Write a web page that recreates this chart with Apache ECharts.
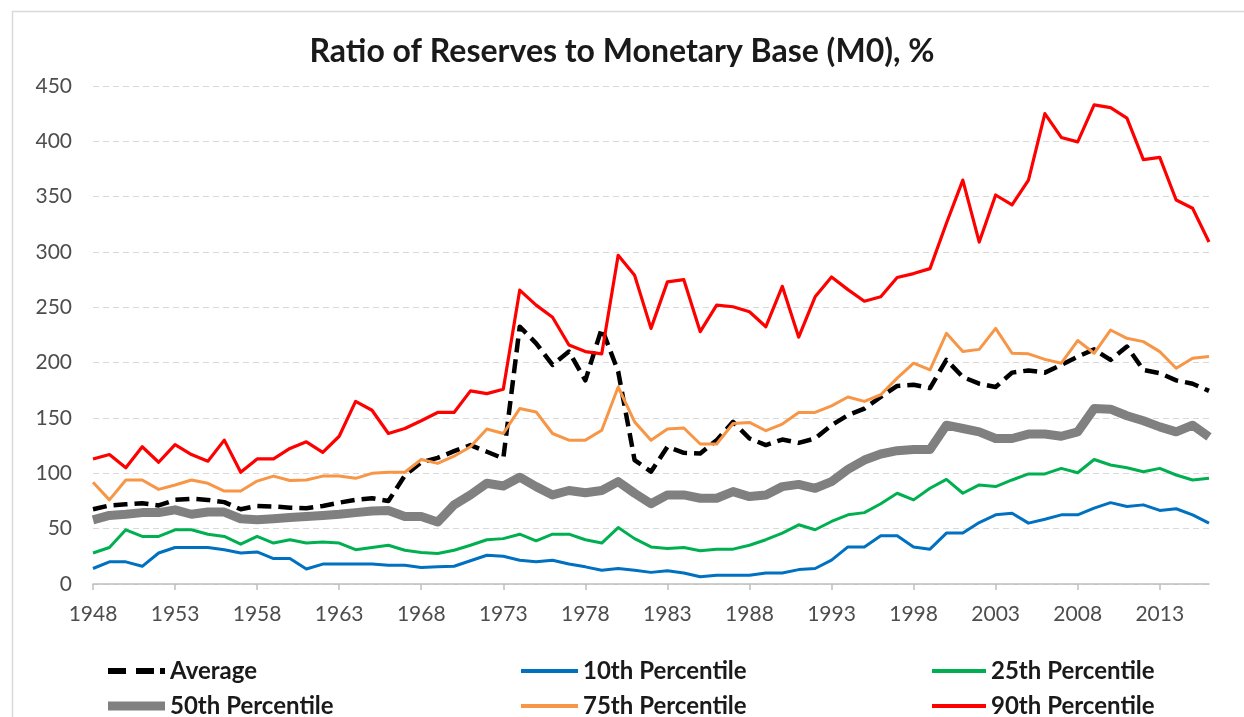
<!DOCTYPE html>
<html>
<head>
<meta charset="utf-8">
<script src="https://cdn.jsdelivr.net/npm/echarts@6/dist/echarts.min.js"></script>
<style>
html,body{margin:0;padding:0;background:#fff;}
#chart{width:1244px;height:717px;}
</style>
</head>
<body>
<div id="chart"></div>
<script>
const years = [];
for (let y = 1948; y <= 2016; y++) years.push(String(y));

const average = [67.5,71,72,73,71,76,77,76,74,67.5,70.5,70,69,68.5,70.5,73.5,76,77.5,75,98,110,114,120,125.5,119.5,113.5,232.5,217.5,198,210,184,231,192,112,101.5,124,118.5,118,130,146.5,131.5,125.5,130.5,127.5,131.5,143.5,152.5,158.5,169,179,180,177,202.5,187,181,178,191,193,191,198,205.5,212,202.5,214.5,193.5,190.5,184,181,174.5];
const p10 = [14,20,20,16,28,33,33,33,31,28,29,23,23,13.5,18,18,18,18,17,17,15,15.5,16,21,26,25,21.5,20,21.5,18,15.5,12.5,14,12.5,10.5,12,10,6.5,8,8,8,10,10,13,14,21.5,33.5,33.5,43.5,43.5,33.5,31.5,46,46,55.5,62.5,64,55,58.5,62.5,62.5,68.5,73.5,70,71.5,66.5,68,62.5,55];
const p25 = [28,33,49,43,43,49,49,45,43,36,43,37,40,37,38,37,31,33,35,30.5,28.5,27.5,30.5,35,40,41,45,39,45,45,40,37,51,41,33.5,32,33,30,31.5,31.5,35,40,46,53.5,49,56.5,62.5,64.5,72.5,82,76,86.5,94.5,82,89.5,88,94,99.5,99.5,104.5,100.5,112.5,107.5,105,101.5,104.5,98.5,94,95.5];
const p50 = [58,62,63,64.5,64.5,67,63,65,65,59,58,59,60,61,62,63,64.5,66,66.5,61,61,56,71.5,80.5,91,88.5,96.5,88,80.5,84.5,82.5,84.5,92.5,82,72.5,80.5,80.5,77.5,77.5,83.5,79,80.5,88,90,86.5,92.5,103.5,112,117.5,120.5,121.5,121.5,143.5,140.5,137.5,131.5,131.5,135.5,135.5,133.5,137.5,158.5,158,152,147.5,142,137.5,143.5,133];
const p75 = [92,76,94,94,85.5,89.5,94,91,84,84,93,97.5,93.5,94,97.5,97.5,95.5,100,101,101,112.5,109,115.5,124,140,136,158.5,155.5,136,130,130,139,178,146.5,130,140,141,126.5,126.5,145,146,138.5,144.5,155,155,161,169,165,171,186,199.5,193.5,226.5,210,212,231,208.5,208,203,199.5,220,208.5,229.5,222,219,210,195,204,205.5];
const p90 = [113,117,105,124,110,126,117,111,130,101,113,113,122.5,128.5,119,133.5,165,157,136,140.5,147.5,155,155,174.5,172,176,265.5,252,241,216,210,208,297,279,231,273,275,228,252,250.5,246,232.5,269,223,259.5,277.5,266,255.5,259.5,277,280.5,285,326,365,309,351.5,342.5,365,425,403.5,399.5,433,430.5,421,383.5,385.5,347,339.5,309];

const yTicks = {min: 0, max: 450, interval: 50};
const titleText = 'Ratio of Reserves to Monetary Base (M0), %';
const FONT = 'Lato, "Open Sans", sans-serif';

const chart = echarts.init(document.getElementById('chart'), null, {renderer: 'canvas'});

function lineSeries(name, data, color, width, type) {
  return {
    name: name, type: 'line', data: data, symbol: 'none', smooth: false,
    lineStyle: {color: color, width: width, type: type || 'solid', cap: 'butt', join: 'round'},
    itemStyle: {color: color},
    emphasis: {disabled: true},
    animation: false
  };
}

const legendText = {fontFamily: FONT, fontWeight: 'bold', fontSize: 24, lineHeight: 24, color: '#1a1a1a'};
function legendItem(name, left, top, icon, w, h, color) {
  return {
    data: [{name: name, icon: icon}],
    left: left, top: top,
    itemWidth: w, itemHeight: h,
    itemStyle: {color: color, borderWidth: 0},
    lineStyle: {width: 0},
    symbolKeepAspect: false,
    selectedMode: false,
    textStyle: legendText
  };
}
const dashIcon = 'path://M0,0H18V6H0Z M28,0H46V6H28Z M52,0H57V6H52Z';

chart.setOption({
  backgroundColor: '#ffffff',
  animation: false,
  title: {
    text: titleText,
    left: 'center',
    top: 31,
    textStyle: {fontFamily: FONT, fontWeight: 'bold', fontSize: 32, color: '#1a1a1a'}
  },
  grid: {left: 93, right: 35, top: 86, bottom: 133, containLabel: false},
  legend: [
    legendItem('Average', 103, 654, dashIcon, 57, 6, '#000000'),
    legendItem('50th Percentile', 103, 689, 'rect', 57, 9, '#808080'),
    legendItem('10th Percentile', 516, 654, 'rect', 57, 4, '#0070C0'),
    legendItem('75th Percentile', 516, 689, 'rect', 57, 4, '#F79646'),
    legendItem('25th Percentile', 927, 654, 'rect', 54, 4, '#00B050'),
    legendItem('90th Percentile', 927, 689, 'rect', 54, 4, '#FF0000')
  ],
  xAxis: {
    type: 'category',
    data: years,
    boundaryGap: false,
    axisLine: {lineStyle: {color: '#bfbfbf', width: 1.5}},
    axisTick: {interval: 4, length: 6, lineStyle: {color: '#bfbfbf', width: 1.5}},
    axisLabel: {interval: 4, margin: 20, fontFamily: FONT, fontSize: 21, color: '#4d4d4d'},
    splitLine: {show: false}
  },
  yAxis: {
    type: 'value',
    min: yTicks.min, max: yTicks.max, interval: yTicks.interval,
    axisLine: {show: false},
    axisTick: {show: false},
    axisLabel: {margin: 21, fontFamily: FONT, fontSize: 21, color: '#4d4d4d'},
    splitLine: {lineStyle: {color: '#d9d9d9', width: 1.2, type: [6, 4]}}
  },
  graphic: [{
    type: 'rect', left: 10, top: 9, silent: true, z: -10,
    shape: {width: 1250, height: 720},
    style: {fill: 'none', stroke: '#d9d9d9', lineWidth: 1.5}
  }],
  series: [
    lineSeries('Average', average, '#000000', 4.5, [14, 7]),
    lineSeries('10th Percentile', p10, '#0070C0', 3),
    lineSeries('25th Percentile', p25, '#00B050', 3),
    lineSeries('50th Percentile', p50, '#808080', 9),
    lineSeries('75th Percentile', p75, '#F79646', 3),
    lineSeries('90th Percentile', p90, '#FF0000', 3.2)
  ]
});
</script>
</body>
</html>
